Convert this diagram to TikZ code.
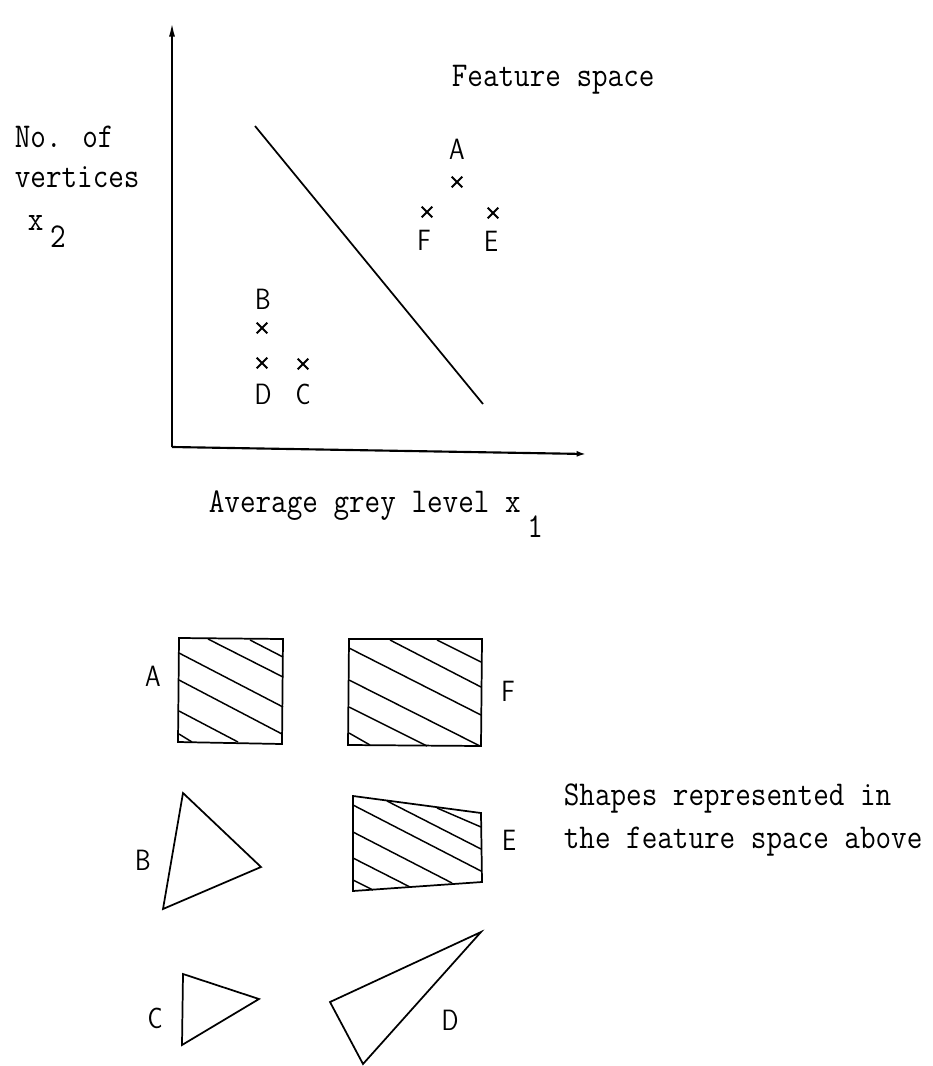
\documentclass[tikz,border=0pt]{standalone}
\usepackage{fontspec}
\usepackage{graphicx}
\usetikzlibrary{arrows.meta,shapes.misc}
\newcommand{\typed}[1]{\scalebox{1}[1.15]{#1}}
\newcommand{\narrow}[1]{\scalebox{0.85}[1]{#1}}

\begin{document}
\begin{tikzpicture}[x=0.75pt, y=-0.75pt, line width=1.3pt,
  every node/.style={inner sep=0pt, font=\fontsize{22.7}{27}\selectfont\ttfamily},
  txt/.style={anchor=base west},
  letter/.style={font=\fontsize{22}{26}\selectfont\sffamily},
  cross/.style={cross out, draw, line width=1.5pt, minimum size=6.5pt},
  hatch/.style={line width=1.1pt}]
  \useasboundingbox (0,0) rectangle (932,1066);

  % axes of the feature space
  \coordinate (origin) at (172,447);
  \coordinate (ytip) at (172,22);
  \coordinate (xtip) at (586,454);
  \draw[line width=1.6pt, -{Latex[length=11pt,width=4.5pt]}] (origin) -- (ytip);
  \draw[line width=1.6pt, -{Latex[length=7pt,width=4.5pt]}] (origin) -- (xtip);

  % decision line
  \draw (255,126) -- (483,404);

  % axis labels
  \node[txt] (title) at (451,87) {\typed{Feature space}};
  \node[txt] (ylabA) at (14,148) {\typed{No. of}};
  \node[txt] (ylabB) at (14,188) {\typed{vertices}};
  \node[txt] (ylabC) at (27,230) {\typed{x\kern5pt\lower11.7pt\hbox{2}}};
  \node[txt] (xlab) at (208,512) {\typed{Average grey level x\kern5pt\lower16.5pt\hbox{1}}};

  % points
  \node[cross] (pA) at (457,182) {};
  \node[cross] (pF) at (427,212) {};
  \node[cross] (pE) at (493,213) {};
  \node[cross] (pB) at (262,328) {};
  \node[cross] (pD) at (262,363) {};
  \node[cross] (pC) at (303,364) {};
  \node[letter] (tA) at (457,149) {\narrow{A}};
  \node[letter] (tF) at (424,240) {\narrow{F}};
  \node[letter] (tE) at (491,241) {\narrow{E}};
  \node[letter] (tB) at (263,299) {\narrow{B}};
  \node[letter] (tD) at (263,394) {\narrow{D}};
  \node[letter] (tC) at (303,394) {\narrow{C}};

  % shape A
  \draw (179,638) -- (283,639) -- (282,744) -- (178,742) -- cycle;
  \draw[hatch] (208,639) -- (283,677) (250,640) -- (283,657)
    (179,653) -- (283,707) (179,680) -- (282,734)
    (179,711) -- (238,742) (179,734) -- (192,742);

  % shape F
  \draw (349,639) -- (482,639) -- (481,746) -- (348,745) -- cycle;
  \draw[hatch] (390,640) -- (481,687) (437,640) -- (481,662)
    (349,648) -- (481,715) (349,680) -- (480,746)
    (349,707) -- (427,746) (349,733) -- (370,745);

  % shape E
  \draw (353,796) -- (481,813) -- (482,882) -- (353,891) -- cycle;
  \draw[hatch] (387,801) -- (481,849) (437,808) -- (481,827)
    (353,805) -- (481,871) (353,832) -- (452,883)
    (353,858) -- (410,887) (353,880) -- (373,890);

  % triangles B, C, D
  \draw (183,793) -- (261,867) -- (163,909) -- cycle;
  \draw (183,974) -- (259,999) -- (182,1045) -- cycle;
  \draw (330,1002) -- (481,932) -- (363,1064) -- cycle;

  % shape labels
  \node[letter] (sA) at (153,676) {\narrow{A}};
  \node[letter] (sF) at (508,691) {\narrow{F}};
  \node[letter] (sB) at (143,860) {\narrow{B}};
  \node[letter] (sE) at (509,840) {\narrow{E}};
  \node[letter] (sC) at (155,1018) {\narrow{C}};
  \node[letter] (sD) at (450,1020) {\narrow{D}};

  \node[txt] (noteA) at (563,805) {\typed{Shapes represented in}};
  \node[txt] (noteB) at (563,848) {\typed{the feature space above}};
\end{tikzpicture}
\end{document}
